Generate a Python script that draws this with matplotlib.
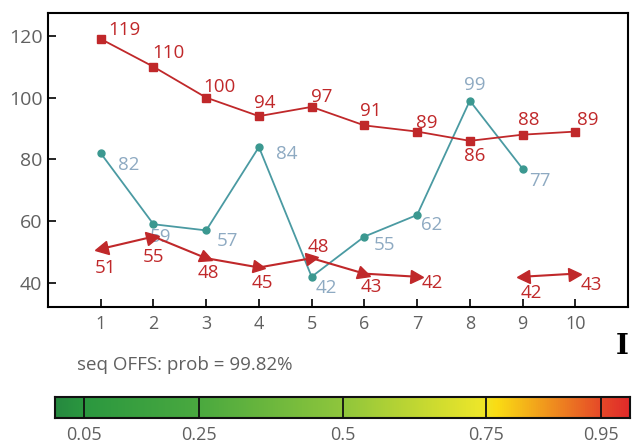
import numpy as np
import matplotlib
matplotlib.use("Agg")
import matplotlib.pyplot as plt
from matplotlib.markers import MarkerStyle
from matplotlib.transforms import Affine2D
from matplotlib.colors import LinearSegmentedColormap

plt.rcParams['font.family'] = ['Open Sans', 'DejaVu Sans']

# data
steps = np.arange(1, 11)
square_vals = [119, 110, 100, 94, 97, 91, 89, 86, 88, 89]
circle_steps = np.arange(1, 10)
circle_vals = [82, 59, 57, 84, 42, 55, 62, 99, 77]
arrow_vals = [51, 55, 48, 45, 48, 43, 42, np.nan, 42, 43]
y_ticks = [40, 60, 80, 100, 120]
cbar_ticks = [0.05, 0.25, 0.5, 0.75, 0.95]
cbar_labels = ['0.05', '0.25', '0.5', '0.75', '0.95']
caption = 'seq OFFS: prob = 99.82%'

# label offsets in pixels (dx, dy up)
square_off = [(24, 9), (15, 14), (13, 11), (6, 13), (10, 10), (6, 14), (10, 9), (5, -15), (6, 15), (12, 12)]
circle_off = [(28, -12), (7, -13), (21, -11), (28, -7), (15, -11), (20, -8), (15, -10), (5, 16), (17, -12)]
arrow_off = [(5, -19), (0, -20), (2, -15), (3, -16), (7, 11), (7, -13), (15, -6), None, (9, -16), (16, -11)]

RED = '#c0282a'
TEAL_LINE = '#4a9aa2'
TEAL_MARK = '#3b9890'
TEAL_TEXT = '#8eaac2'
GRAY = '#606060'

W, H = 632, 448
fig = plt.figure(figsize=(W / 100, H / 100), dpi=100)
ax = fig.add_axes([48 / W, 1 - 307 / H, 580 / W, 294 / H])
ax.set_xlim(0, 11)
ax.set_ylim(32.2, 127.4)

px = 72 / 100  # pixels -> points
LBL = 13.5

# red squares
ax.plot(steps, square_vals, color=RED, lw=1.3, marker='s', ms=6, zorder=3)
for x, v, (dx, dy) in zip(steps, square_vals, square_off):
    ax.annotate(str(v), (x, v), xytext=(dx * px, dy * px), textcoords='offset points',
                ha='center', va='center', color=RED, fontsize=LBL)

# teal circles
ax.plot(circle_steps, circle_vals, color=TEAL_LINE, lw=1.3, marker='o', ms=5,
        mfc=TEAL_MARK, mec=TEAL_MARK, zorder=2)
for x, v, (dx, dy) in zip(circle_steps, circle_vals, circle_off):
    ax.annotate(str(v), (x, v), xytext=(dx * px, dy * px), textcoords='offset points',
                ha='center', va='center', color=TEAL_TEXT, fontsize=LBL)

# red arrows
ax.plot(steps, arrow_vals, color=RED, lw=1.5, zorder=3)
pts = ax.transData.transform(np.column_stack([steps, np.nan_to_num(arrow_vals)]))
for i, v in enumerate(arrow_vals):
    if np.isnan(v):
        continue
    prev_ok = i > 0 and not np.isnan(arrow_vals[i - 1])
    if prev_ok:
        d = pts[i] - pts[i - 1]
    else:
        d = pts[i] - pts[i + 1]
    ang = np.degrees(np.arctan2(d[1], d[0]))
    m = MarkerStyle('>', transform=Affine2D().rotate_deg(ang))
    ax.plot(steps[i], v, marker=m, ms=9, color=RED, zorder=4, ls='none')
    dx, dy = arrow_off[i]
    ax.annotate(str(int(v)), (steps[i], v), xytext=(dx * px, dy * px), textcoords='offset points',
                ha='center', va='center', color=RED, fontsize=LBL)

ax.set_xticks(steps)
ax.set_yticks(y_ticks)
ax.tick_params(direction='in', length=6, width=1.2, color='black', labelcolor=GRAY, labelsize=14)
ax.tick_params(axis='x', pad=6, labelsize=13)
ax.tick_params(axis='y', pad=4)
for s in ax.spines.values():
    s.set_linewidth(1.5)
    s.set_color('black')

fig.text(77 / W, 1 - 365 / H, caption, color=GRAY, fontsize=13.5, ha='left', va='center')
fig.text(622 / W, 1 - 346 / H, 'I', color='black', fontsize=20, fontweight='bold',
         family='DejaVu Serif', ha='center', va='center')

# colour bar
cmap = LinearSegmentedColormap.from_list('prob', [
    (0.0, '#26893f'), (0.05, '#2b9840'), (0.25, '#4aa93f'), (0.5, '#8fc63c'),
    (0.74, '#ece62a'), (0.77, '#fadc14'), (0.95, '#e64a28'), (1.0, '#e02a2a')])
cax = fig.add_axes([55 / W, 1 - 418 / H, 575 / W, 21 / H])
cax.imshow(np.linspace(0, 1, 512)[None, :], cmap=cmap, aspect='auto', extent=[0, 1, 0, 1])
for t in cbar_ticks:
    cax.axvline(t, color='#111111', lw=1.3)
cax.set_xlim(0, 1)
cax.set_ylim(0, 1)
cax.set_yticks([])
cax.set_xticks(cbar_ticks)
cax.set_xticklabels(cbar_labels)
cax.tick_params(axis='x', length=0, pad=6, labelcolor=GRAY, labelsize=13)
for s in cax.spines.values():
    s.set_linewidth(1.5)
    s.set_color('#111111')

fig.savefig('out.png', dpi=100)
